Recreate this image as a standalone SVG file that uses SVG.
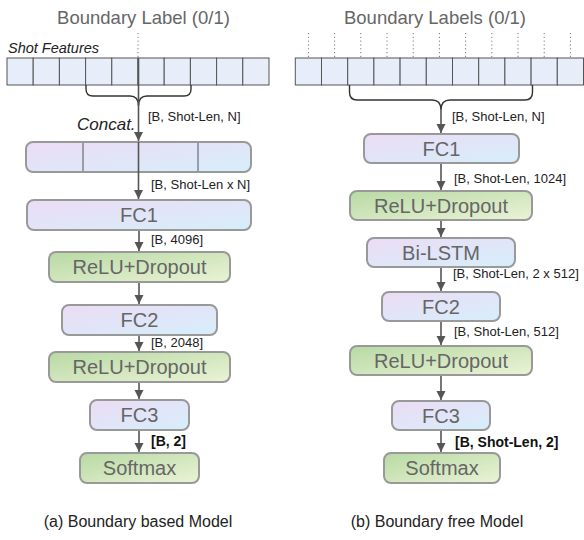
<svg xmlns="http://www.w3.org/2000/svg" width="584" height="540" viewBox="0 0 584 540">
<defs>
<linearGradient id="gp" x1="0" y1="0" x2="1" y2="1">
<stop offset="0" stop-color="#ecdcf4"/><stop offset="1" stop-color="#d6eefb"/>
</linearGradient>
<linearGradient id="gg" x1="0" y1="0" x2="1" y2="1">
<stop offset="0" stop-color="#b8d9a4"/><stop offset="1" stop-color="#eaf3d6"/>
</linearGradient>
<marker id="ah" markerWidth="10" markerHeight="10" refX="9" refY="5" orient="auto" markerUnits="userSpaceOnUse">
<path d="M0,0.5 L9,5 L0,9.5 z" fill="#555"/>
</marker>
<style>
text{font-family:"Liberation Sans",Arial,sans-serif}
.title{font-size:18.5px;fill:#666;text-anchor:middle}
.cap{font-size:16px;fill:#222;text-anchor:middle}
.bp{fill:url(#gp);stroke:#999;stroke-width:2}
.bg{fill:url(#gg);stroke:#999;stroke-width:2}
.bl{font-size:20px;fill:#666;text-anchor:middle}
.cell{fill:#e7eefa;stroke:#555;stroke-width:1}
.lab{font-size:13px;fill:#222}
.labb{font-size:14px;fill:#111;font-weight:bold}
.it{font-style:italic;fill:#222}
.ar{stroke:#555;stroke-width:1.6;fill:none;marker-end:url(#ah)}
.dot{stroke:#777;stroke-width:1;stroke-dasharray:1.2 2.6;fill:none}
.brace{stroke:#333;stroke-width:1.4;fill:none}
.div{stroke:#555;stroke-width:1}
</style>
</defs>

<!-- LEFT PANEL -->
<text class="title" x="143.5" y="24">Boundary Label (0/1)</text>
<text class="it" x="8" y="53" font-size="14.5">Shot Features</text>

<g id="shot-features-a">
<rect class="cell" x="7" y="58" width="26.2" height="27"/>
<rect class="cell" x="33.2" y="58" width="26.2" height="27"/>
<rect class="cell" x="59.4" y="58" width="26.2" height="27"/>
<rect class="cell" x="85.6" y="58" width="26.2" height="27"/>
<rect class="cell" x="111.8" y="58" width="26.2" height="27"/>
<rect class="cell" x="138" y="58" width="26.2" height="27"/>
<rect class="cell" x="164.2" y="58" width="26.2" height="27"/>
<rect class="cell" x="190.4" y="58" width="26.2" height="27"/>
<rect class="cell" x="216.6" y="58" width="26.2" height="27"/>
<rect class="cell" x="242.8" y="58" width="26.2" height="27"/>
</g>

<g id="concat-a">
<rect class="bp" x="26" y="142" width="225" height="30" rx="7"/>
<line class="div" x1="83" y1="143" x2="83" y2="171"/>
<line class="div" x1="198" y1="143" x2="198" y2="171"/>
</g>
<g id="fc1-a"><rect class="bp" x="27" y="200" width="224" height="30" rx="7"/><text class="bl" x="139" y="222">FC1</text></g>
<g id="relu1-a"><rect class="bg" x="49" y="252" width="181" height="30" rx="7"/><text class="bl" x="139.5" y="274">ReLU+Dropout</text></g>
<g id="fc2-a"><rect class="bp" x="62" y="305" width="155" height="30" rx="7"/><text class="bl" x="139.5" y="327">FC2</text></g>
<g id="relu2-a"><rect class="bg" x="49" y="352" width="181" height="30" rx="7"/><text class="bl" x="139.5" y="374">ReLU+Dropout</text></g>
<g id="fc3-a"><rect class="bp" x="90" y="400" width="99" height="30" rx="7"/><text class="bl" x="139.5" y="422">FC3</text></g>
<g id="softmax-a"><rect class="bg" x="80" y="453" width="119" height="30" rx="7"/><text class="bl" x="139.5" y="475">Softmax</text></g>

<text class="cap" x="138" y="527">(a) Boundary based Model</text>

<!-- RIGHT PANEL -->
<text class="title" x="435" y="24">Boundary Labels (0/1)</text>

<g id="shot-features-b">
<rect class="cell" x="295.3" y="58" width="26.2" height="27"/>
<rect class="cell" x="321.5" y="58" width="26.2" height="27"/>
<rect class="cell" x="347.7" y="58" width="26.2" height="27"/>
<rect class="cell" x="373.9" y="58" width="26.2" height="27"/>
<rect class="cell" x="400.1" y="58" width="26.2" height="27"/>
<rect class="cell" x="426.3" y="58" width="26.2" height="27"/>
<rect class="cell" x="452.5" y="58" width="26.2" height="27"/>
<rect class="cell" x="478.7" y="58" width="26.2" height="27"/>
<rect class="cell" x="504.9" y="58" width="26.2" height="27"/>
<rect class="cell" x="531.1" y="58" width="26.2" height="27"/>
<rect class="cell" x="557.3" y="58" width="26.2" height="27"/>
</g>

<g id="fc1-b"><rect class="bp" x="364" y="134" width="155" height="29" rx="7"/><text class="bl" x="441.5" y="155.5">FC1</text></g>
<g id="relu1-b"><rect class="bg" x="350" y="191" width="182" height="29" rx="7"/><text class="bl" x="441" y="212.5">ReLU+Dropout</text></g>
<g id="bilstm-b"><rect class="bp" x="367" y="238" width="148" height="29" rx="7"/><text class="bl" x="441" y="259.5">Bi-LSTM</text></g>
<g id="fc2-b"><rect class="bp" x="382" y="292" width="118" height="29" rx="7"/><text class="bl" x="441" y="313.5">FC2</text></g>
<g id="relu2-b"><rect class="bg" x="350" y="346" width="182" height="29" rx="7"/><text class="bl" x="441" y="367.5">ReLU+Dropout</text></g>
<g id="fc3-b"><rect class="bp" x="392" y="401" width="98" height="29" rx="7"/><text class="bl" x="441" y="422.5">FC3</text></g>
<g id="softmax-b"><rect class="bg" x="384" y="453" width="116" height="30" rx="7"/><text class="bl" x="442" y="475">Softmax</text></g>

<text class="cap" x="437" y="527">(b) Boundary free Model</text>

<!-- CONNECTORS -->
<g id="connectors">
<line class="dot" x1="138" y1="33" x2="138" y2="58"/>
<path class="brace" d="M86,85 V89 Q86,96 93,96 H130 Q138.5,96 138.5,106 Q138.5,96 147,96 H184 Q191,96 191,89 V85"/>
<line class="ar" x1="138.5" y1="58" x2="138.5" y2="141"/>
<line class="ar" x1="138.5" y1="142" x2="138.5" y2="199"/>
<line class="ar" x1="139" y1="231" x2="139" y2="251"/>
<line class="ar" x1="139" y1="283" x2="139" y2="304"/>
<line class="ar" x1="139" y1="336" x2="139" y2="351"/>
<line class="ar" x1="139" y1="383" x2="139" y2="399"/>
<line class="ar" x1="139" y1="431" x2="139" y2="452"/>

<line class="dot" x1="308.4" y1="33" x2="308.4" y2="57"/>
<line class="dot" x1="334.6" y1="33" x2="334.6" y2="57"/>
<line class="dot" x1="360.8" y1="33" x2="360.8" y2="57"/>
<line class="dot" x1="387" y1="33" x2="387" y2="57"/>
<line class="dot" x1="413.2" y1="33" x2="413.2" y2="57"/>
<line class="dot" x1="439.4" y1="33" x2="439.4" y2="57"/>
<line class="dot" x1="465.6" y1="33" x2="465.6" y2="57"/>
<line class="dot" x1="491.8" y1="33" x2="491.8" y2="57"/>
<line class="dot" x1="518" y1="33" x2="518" y2="57"/>
<line class="dot" x1="544.2" y1="33" x2="544.2" y2="57"/>
<line class="dot" x1="570.4" y1="33" x2="570.4" y2="57"/>
<path class="brace" d="M349.5,85 V92 Q349.5,100 357,100 H432 Q441,100 441,110 Q441,100 450,100 H525 Q532.5,100 532.5,92 V85"/>
<line class="ar" x1="441" y1="110" x2="441" y2="133"/>
<line class="ar" x1="441" y1="164" x2="441" y2="190"/>
<line class="ar" x1="441" y1="221" x2="441" y2="237"/>
<line class="ar" x1="441" y1="268" x2="441" y2="291"/>
<line class="ar" x1="441" y1="322" x2="441" y2="345"/>
<line class="ar" x1="441" y1="376" x2="441" y2="400"/>
<line class="ar" x1="441" y1="431" x2="441" y2="452"/>

<text class="it" x="77" y="130" font-size="17">Concat.</text>
<text class="lab" x="148" y="121">[B, Shot-Len, N]</text>
<text class="lab" x="151" y="189">[B, Shot-Len x N]</text>
<text class="lab" x="151" y="244">[B, 4096]</text>
<text class="lab" x="151" y="347">[B, 2048]</text>
<text class="labb" x="151" y="446">[B, 2]</text>

<text class="lab" x="452" y="121">[B, Shot-Len, N]</text>
<text class="lab" x="454" y="183">[B, Shot-Len, 1024]</text>
<text class="lab" x="453" y="278">[B, Shot-Len, 2 x 512]</text>
<text class="lab" x="454" y="336">[B, Shot-Len, 512]</text>
<text class="labb" x="455" y="447">[B, Shot-Len, 2]</text>
</g>
</svg>
